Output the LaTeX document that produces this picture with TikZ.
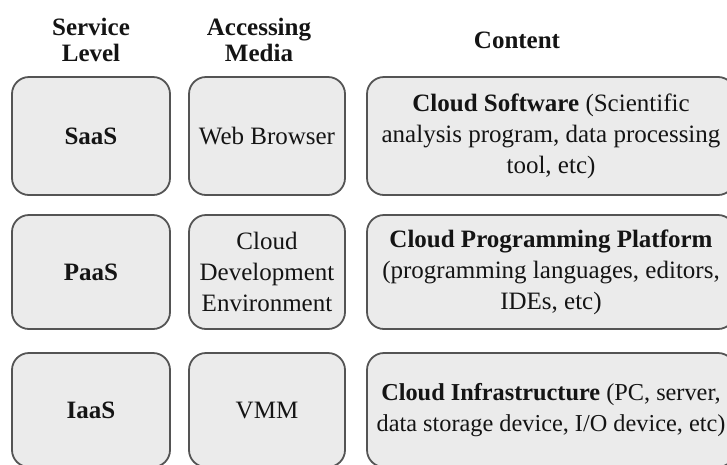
\documentclass[tikz,border=0pt]{standalone}
\usepackage{fontspec}
\setmainfont{Liberation Serif}
\definecolor{boxfill}{HTML}{EBEBEB}
\definecolor{boxline}{HTML}{545454}
\definecolor{ink}{HTML}{141414}
\begin{document}
\begin{tikzpicture}[x=1pt,y=-1pt,
  cell/.style={draw=boxline, fill=boxfill, line width=1.8pt, rounded corners=17pt,
    align=center, inner sep=0pt, text=ink, font=\fontsize{25}{31}\selectfont},
  head/.style={align=center, inner sep=0pt, text=ink, font=\fontsize{25}{26}\selectfont\bfseries},
  narrowA/.style={cell, minimum width=158pt},
  narrowB/.style={cell, minimum width=156pt},
  wide/.style={cell, minimum width=368pt}]
\useasboundingbox (0,0) rectangle (727,464);

% column headings
\node[head] (hlevel) at (91,40) {Service\\Level};
\node[head] (hmedia) at (259,40) {Accessing\\Media};
\node[head] (hcontent) at (517,40) {Content};

% SaaS row
\node[narrowA, minimum height=118pt] (saas) at (91,136) {\bfseries SaaS};
\node[narrowB, minimum height=118pt] (web) at (267,136) {Web Browser};
\node[wide, minimum height=118pt] (software) at (551,136)
  {\textbf{Cloud Software} (Scientific\\analysis program, data processing\\tool, etc)};

% PaaS row
\node[narrowA, minimum height=114pt] (paas) at (91,272) {\bfseries PaaS};
\node[narrowB, minimum height=114pt] (devenv) at (267,272) {Cloud\\Development\\Environment};
\node[wide, minimum height=114pt] (platform) at (551,272)
  {\textbf{Cloud Programming Platform}\\(programming languages, editors,\\IDEs, etc)};

% IaaS row
\node[narrowA, minimum height=114pt] (iaas) at (91,410) {\bfseries IaaS};
\node[narrowB, minimum height=114pt] (vmm) at (267,410) {VMM};
\node[wide, minimum height=114pt, font=\fontsize{24.3}{31}\selectfont] (infra) at (551,410)
  {\textbf{Cloud Infrastructure} (PC, server,\\data storage device, I/O device, etc)};
\end{tikzpicture}
\end{document}
